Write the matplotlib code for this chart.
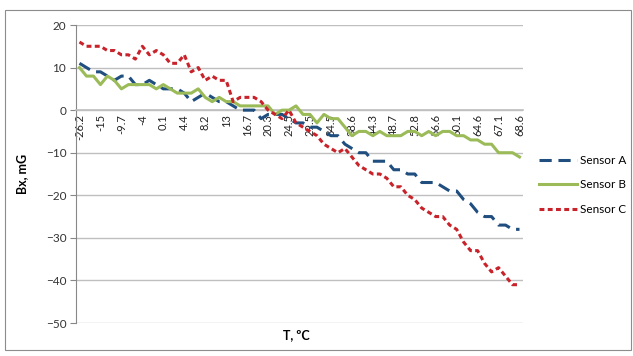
import matplotlib
matplotlib.use("Agg")
import matplotlib.pyplot as plt
from matplotlib.patches import Rectangle

plt.rcParams['font.family'] = ['Lato', 'DejaVu Sans']

# temperature labels shown on the category axis (every 3rd sample)
t_labels = ['-26.2', '-15', '-9.7', '-4', '0.1', '4.4', '8.2', '13', '16.7', '20.3',
            '24.5', '29.5', '34.5', '38.6', '44.3', '48.7', '52.8', '56.6', '60.1',
            '64.6', '67.1', '68.6']

sensor_a = [11, 10, 9, 9, 8, 7, 8, 8, 6, 6, 7, 6, 5, 5, 5, 4, 2, 3, 4, 3, 2, 2, 1, 0,
            0, 0, -2, -1, -1, -1, -2, -3, -3, -4, -4, -5, -6, -6, -8, -9, -10, -10,
            -12, -12, -12, -14, -14, -15, -15, -17, -17, -17, -18, -19, -19, -21,
            -22, -24, -25, -25, -27, -27, -28, -28]
sensor_b = [10, 8, 8, 6, 8, 7, 5, 6, 6, 6, 6, 5, 6, 5, 4, 4, 4, 5, 3, 2, 3, 2, 2, 1,
            1, 1, 1, 1, -1, 0, 0, 1, -1, -1, -3, -1, -2, -2, -4, -6, -5, -5, -6, -5,
            -6, -6, -6, -5, -5, -6, -5, -6, -5, -5, -6, -6, -7, -7, -8, -8, -10, -10,
            -10, -11]
sensor_c = [16, 15, 15, 15, 14, 14, 13, 13, 12, 15, 13, 14, 13, 11, 11, 13, 9, 10, 7,
            8, 7, 7, 2, 3, 3, 3, 2, 0, -1, -2, 0, -3, -4, -5, -6, -8, -9, -10, -9,
            -11, -13, -14, -15, -15, -16, -18, -18, -20, -21, -23, -24, -25, -25,
            -27, -28, -31, -33, -33, -36, -38, -37, -39, -41, -41]

x = list(range(len(sensor_a)))

fig = plt.figure(figsize=(6.33, 3.56), dpi=100)
W, H = 633, 356
ax = fig.add_axes([76 / W, (H - 323) / H, (523 - 76) / W, (323 - 25) / H])

ax.plot(x, sensor_a, color='#1F4E7F', lw=2.2, dashes=(4, 2.2), label='Sensor A',
        dash_capstyle='butt', zorder=3)
ax.plot(x, sensor_b, color='#9BBB59', lw=2.2, label='Sensor B', zorder=3)
ax.plot(x, sensor_c, color='#C8232B', lw=2.2, dashes=(1.6, 1.1), label='Sensor C',
        dash_capstyle='butt', zorder=3)

ax.set_xlim(-0.5, len(x) - 0.5)
ax.set_ylim(-50, 20)
ax.set_yticks(range(-50, 21, 10))
ax.grid(axis='y', color='#BFBFBF', lw=1)
ax.set_axisbelow(True)

for s in ['top', 'right']:
    ax.spines[s].set_visible(False)
ax.spines['left'].set_color('#888888')
ax.spines['bottom'].set_position(('data', 0))
ax.spines['bottom'].set_color('#BFBFBF')
ax.spines['bottom'].set_linewidth(1.2)

ax.set_xticks(x[::3])
ax.set_xticklabels(t_labels, rotation=90, fontsize=8, color='#222222')
ax.tick_params(axis='x', length=0, pad=3)
ax.tick_params(axis='y', direction='out', length=4, color='#888888',
               labelsize=8.5, labelcolor='#333333', pad=3)

fig.text(22 / W, 1 - 174 / H, 'Bx, mG', rotation=90, fontsize=9, fontweight='bold',
         ha='center', va='center')
fig.text(296 / W, 1 - 335 / H, 'T, ºC', fontsize=9, fontweight='bold',
         ha='center', va='center')

handles, labels = ax.get_legend_handles_labels()
fig.legend(handles, labels, loc='upper left', bbox_to_anchor=(534 / W, 1 - 150 / H),
           frameon=False, fontsize=8.5, handlelength=3.2, handletextpad=0.3,
           labelspacing=1.15, borderaxespad=0)

fig.patches.append(Rectangle((5 / W, 1 - 350 / H), 626 / W, 340 / H,
                             transform=fig.transFigure, fill=False,
                             edgecolor='#8C8C8C', lw=0.8))

fig.savefig('out.png', dpi=100)
